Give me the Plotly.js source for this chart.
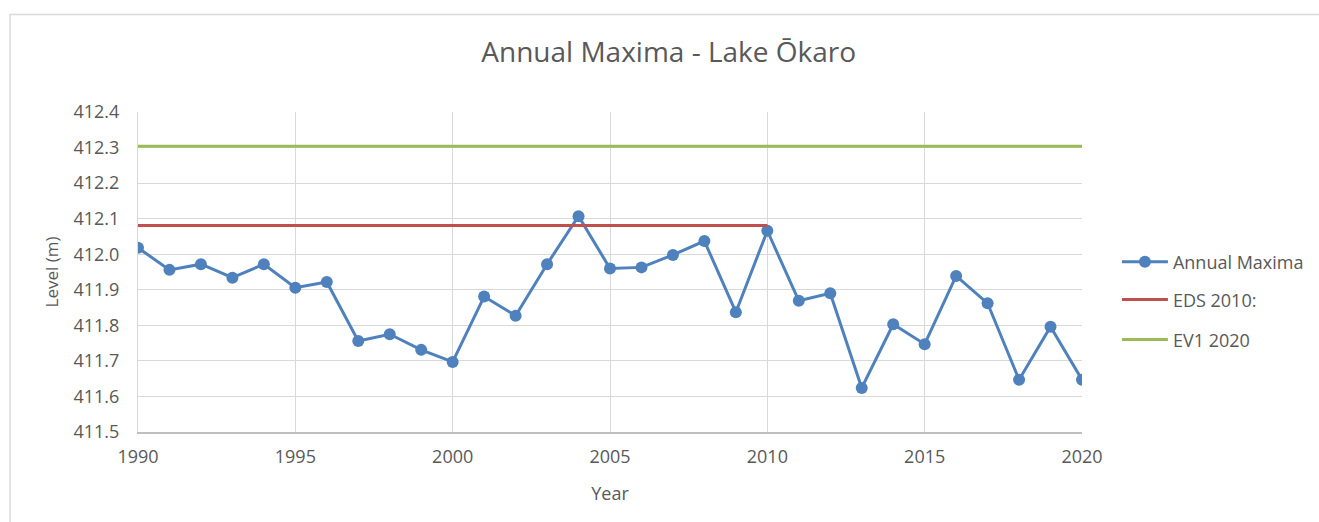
<!DOCTYPE html>
<html>
<head>
<meta charset="utf-8">
<script src="https://cdn.plot.ly/plotly-3.0.1.min.js"></script>
<style>html,body{margin:0;padding:0;background:#fff;}#chart{width:1319px;height:522px;}</style>
</head>
<body>
<div id="chart"></div>
<script>
const years = [1990,1991,1992,1993,1994,1995,1996,1997,1998,1999,2000,2001,2002,2003,2004,2005,2006,2007,2008,2009,2010,2011,2012,2013,2014,2015,2016,2017,2018,2019,2020];
const annualMaxima = [412.018,411.956,411.972,411.934,411.972,411.906,411.922,411.756,411.775,411.731,411.697,411.881,411.827,411.972,412.107,411.960,411.963,411.998,412.037,411.837,412.066,411.869,411.890,411.624,411.803,411.747,411.939,411.862,411.647,411.796,411.647];
const edsYears = [1990, 2010];
const edsLevel = [412.081, 412.081];
const ev1Years = [1990, 2020];
const ev1Level = [412.304, 412.304];
const seriesNames = ["Annual Maxima", "EDS 2010:", "EV1 2020"];

const FONT = "Open Sans, sans-serif";
const TXT = "#595959";

const traces = [
  {x: years, y: annualMaxima, name: seriesNames[0], type: "scatter", mode: "lines+markers",
   line: {color: "#4f81bd", width: 3}, marker: {color: "#4f81bd", size: 12}, legend: "legend"},
  {x: edsYears, y: edsLevel, name: seriesNames[1], type: "scatter", mode: "lines",
   line: {color: "#c0504d", width: 3}, legend: "legend2"},
  {x: ev1Years, y: ev1Level, name: seriesNames[2], type: "scatter", mode: "lines",
   line: {color: "#9bbb59", width: 3}, legend: "legend3"}
];

const legBase = {x: 1.037, xanchor: "left", yanchor: "middle", bgcolor: "rgba(0,0,0,0)", itemwidth: 46,
  font: {family: FONT, size: 18, color: TXT}};

const layout = {
  width: 1319, height: 522,
  margin: {l: 138, r: 237, t: 112, b: 90, autoexpand: false},
  paper_bgcolor: "#ffffff", plot_bgcolor: "#ffffff",
  font: {family: FONT, color: TXT},
  title: {text: "Annual Maxima - Lake Ōkaro", font: {family: FONT, size: 28, color: TXT},
          x: 0.507, xref: "container", xanchor: "center", y: 0.9, yref: "container", yanchor: "middle"},
  xaxis: {range: [1990, 2020], dtick: 5, tick0: 1990, showgrid: true, gridcolor: "#d9d9d9", gridwidth: 1,
          zeroline: false, showline: true, linecolor: "#bfbfbf", linewidth: 1.5,
          ticks: "", ticklabelstandoff: 8, tickfont: {family: FONT, size: 18, color: TXT},
          title: {text: "Year", font: {family: FONT, size: 18, color: TXT}, standoff: 20}},
  yaxis: {range: [411.5, 412.4], dtick: 0.1, tick0: 411.5, tickformat: ".1f", showgrid: true,
          gridcolor: "#d9d9d9", gridwidth: 1, zeroline: false, showline: true, linecolor: "#d9d9d9",
          ticks: "", ticklabelstandoff: 14, tickfont: {family: FONT, size: 18, color: TXT},
          title: {text: "Level (m)", font: {family: FONT, size: 17, color: TXT}, standoff: 10}},
  legend: Object.assign({}, legBase, {y: 0.531}),
  legend2: Object.assign({}, legBase, {y: 0.413}),
  legend3: Object.assign({}, legBase, {y: 0.288}),
  shapes: [{type: "rect", xref: "paper", yref: "paper", x0: -0.1356, x1: 1.26, y0: -0.31, y1: 1.3047,
            line: {color: "#d9d9d9", width: 1.5}, fillcolor: "rgba(0,0,0,0)", layer: "below"}],
  showlegend: true
};

Plotly.newPlot("chart", traces, layout, {displayModeBar: false, staticPlot: true});
</script>
</body>
</html>
